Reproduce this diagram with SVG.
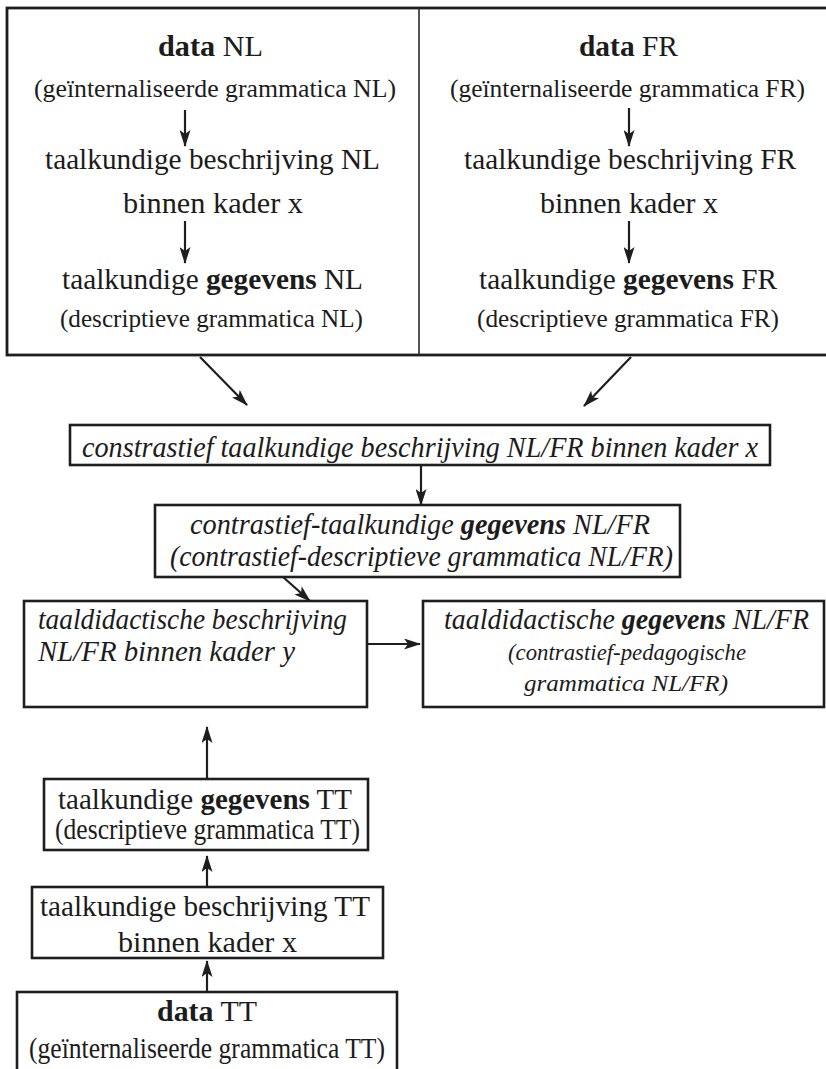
<svg xmlns="http://www.w3.org/2000/svg" width="826" height="1069" viewBox="0 0 826 1069" font-family="'Liberation Serif', 'Times New Roman', serif">
<style>
  .bg { fill: #ffffff; }
  .box { fill: none; stroke: #1e1e1e; stroke-width: 2.6; }
  .div { stroke: #2a2a2a; stroke-width: 1.6; }
  .edge { stroke: #1e1e1e; stroke-width: 2.2; fill: none; }
  .t { font-family: "Liberation Serif", "Times New Roman", serif; fill: #1c1c1c; }
  .m { font-size: 29px; }
  .p { font-size: 25.5px; }
  .s { font-size: 24px; }
  .i { font-style: italic; }
  .b { font-weight: bold; }
</style>
<defs>
  <marker id="ah" viewBox="0 0 17 11" refX="16" refY="5.5" markerWidth="17" markerHeight="11" markerUnits="userSpaceOnUse" orient="auto">
    <path d="M0,0 L17,5.5 L0,11 L4,5.5 z" fill="#1e1e1e"/>
  </marker>
</defs>
<rect class="bg" x="0" y="0" width="826" height="1069"/>

<g id="top-panel">
  <rect class="box" x="7" y="8" width="830" height="347" style="stroke-width:2.8"/>
  <line class="div" x1="419" y1="8" x2="419" y2="355"/>
</g>

<g id="node-data-nl">
  <text class="t m" x="158" y="56" textLength="105" lengthAdjust="spacingAndGlyphs"><tspan class="b">data</tspan> NL</text>
  <text class="t p" x="34" y="97" textLength="362" lengthAdjust="spacingAndGlyphs">(geïnternaliseerde grammatica NL)</text>
</g>
<g id="node-beschrijving-nl">
  <text class="t m" x="45" y="169" textLength="335" lengthAdjust="spacingAndGlyphs">taalkundige beschrijving NL</text>
  <text class="t m" x="123" y="213" textLength="180" lengthAdjust="spacingAndGlyphs">binnen kader x</text>
</g>
<g id="node-gegevens-nl">
  <text class="t m" x="62" y="289" textLength="301" lengthAdjust="spacingAndGlyphs">taalkundige <tspan class="b">gegevens</tspan> NL</text>
  <text class="t p" x="60" y="327" textLength="303" lengthAdjust="spacingAndGlyphs">(descriptieve grammatica NL)</text>
</g>

<g id="node-data-fr">
  <text class="t m" x="579" y="56" textLength="99" lengthAdjust="spacingAndGlyphs"><tspan class="b">data</tspan> FR</text>
  <text class="t p" x="450" y="97" textLength="355" lengthAdjust="spacingAndGlyphs">(geïnternaliseerde grammatica FR)</text>
</g>
<g id="node-beschrijving-fr">
  <text class="t m" x="464" y="169" textLength="332" lengthAdjust="spacingAndGlyphs">taalkundige beschrijving FR</text>
  <text class="t m" x="540" y="213" textLength="178" lengthAdjust="spacingAndGlyphs">binnen kader x</text>
</g>
<g id="node-gegevens-fr">
  <text class="t m" x="479" y="289" textLength="298" lengthAdjust="spacingAndGlyphs">taalkundige <tspan class="b">gegevens</tspan> FR</text>
  <text class="t p" x="477" y="327" textLength="302" lengthAdjust="spacingAndGlyphs">(descriptieve grammatica FR)</text>
</g>

<g id="node-constrastief">
  <rect class="box" x="70" y="425" width="700" height="40"/>
  <text class="t m i" x="82" y="457" textLength="676" lengthAdjust="spacingAndGlyphs">constrastief taalkundige beschrijving NL/FR binnen kader x</text>
</g>

<g id="node-contrastief-gegevens">
  <rect class="box" x="155" y="505" width="525" height="72"/>
  <text class="t m i" x="190" y="534" textLength="460" lengthAdjust="spacingAndGlyphs">contrastief-taalkundige <tspan class="b">gegevens</tspan> NL/FR</text>
  <text class="t m i" x="170" y="566" textLength="503" lengthAdjust="spacingAndGlyphs">(contrastief-descriptieve grammatica NL/FR)</text>
</g>

<g id="node-taaldidactische-beschrijving">
  <rect class="box" x="24" y="601" width="343" height="106"/>
  <text class="t m i" x="38" y="629" textLength="309" lengthAdjust="spacingAndGlyphs">taaldidactische beschrijving</text>
  <text class="t m i" x="38" y="661" textLength="257" lengthAdjust="spacingAndGlyphs">NL/FR binnen kader y</text>
</g>

<g id="node-taaldidactische-gegevens">
  <rect class="box" x="423" y="601" width="401" height="106"/>
  <text class="t m i" x="444" y="629" textLength="365" lengthAdjust="spacingAndGlyphs">taaldidactische <tspan class="b">gegevens</tspan> NL/FR</text>
  <text class="t s i" x="508" y="660" textLength="238" lengthAdjust="spacingAndGlyphs">(contrastief-pedagogische</text>
  <text class="t s i" x="524" y="691" textLength="204" lengthAdjust="spacingAndGlyphs">grammatica NL/FR)</text>
</g>

<g id="node-gegevens-tt">
  <rect class="box" x="44" y="779" width="324" height="71"/>
  <text class="t m" x="58" y="809" textLength="294" lengthAdjust="spacingAndGlyphs">taalkundige <tspan class="b">gegevens</tspan> TT</text>
  <text class="t m" x="55" y="839" textLength="305" lengthAdjust="spacingAndGlyphs">(descriptieve grammatica TT)</text>
</g>

<g id="node-beschrijving-tt">
  <rect class="box" x="32" y="887" width="351" height="71"/>
  <text class="t m" x="40" y="916" textLength="330" lengthAdjust="spacingAndGlyphs">taalkundige beschrijving TT</text>
  <text class="t m" x="118" y="952" textLength="179" lengthAdjust="spacingAndGlyphs">binnen kader x</text>
</g>

<g id="node-data-tt">
  <rect class="box" x="17" y="992" width="380" height="90"/>
  <text class="t m" x="157" y="1021" textLength="100" lengthAdjust="spacingAndGlyphs"><tspan class="b">data</tspan> TT</text>
  <text class="t m" x="29" y="1058" textLength="356" lengthAdjust="spacingAndGlyphs">(geïnternaliseerde grammatica TT)</text>
</g>

<g id="connectors">
  <line class="edge" x1="185" y1="110" x2="185" y2="146" marker-end="url(#ah)"/>
  <line class="edge" x1="185" y1="221" x2="185" y2="263" marker-end="url(#ah)"/>
  <line class="edge" x1="629" y1="108" x2="629" y2="146" marker-end="url(#ah)"/>
  <line class="edge" x1="629" y1="221" x2="629" y2="263" marker-end="url(#ah)"/>
  <line class="edge" x1="200" y1="357" x2="247" y2="405" marker-end="url(#ah)"/>
  <line class="edge" x1="631" y1="357" x2="584" y2="406" marker-end="url(#ah)"/>
  <line class="edge" x1="421" y1="465" x2="421" y2="505" marker-end="url(#ah)"/>
  <line class="edge" x1="283" y1="577" x2="310" y2="601" marker-end="url(#ah)"/>
  <line class="edge" x1="367" y1="644" x2="420" y2="644" marker-end="url(#ah)"/>
  <line class="edge" x1="207" y1="779" x2="207" y2="727" marker-end="url(#ah)"/>
  <line class="edge" x1="207" y1="887" x2="207" y2="856" marker-end="url(#ah)"/>
  <line class="edge" x1="207" y1="992" x2="207" y2="961" marker-end="url(#ah)"/>
</g>
</svg>
